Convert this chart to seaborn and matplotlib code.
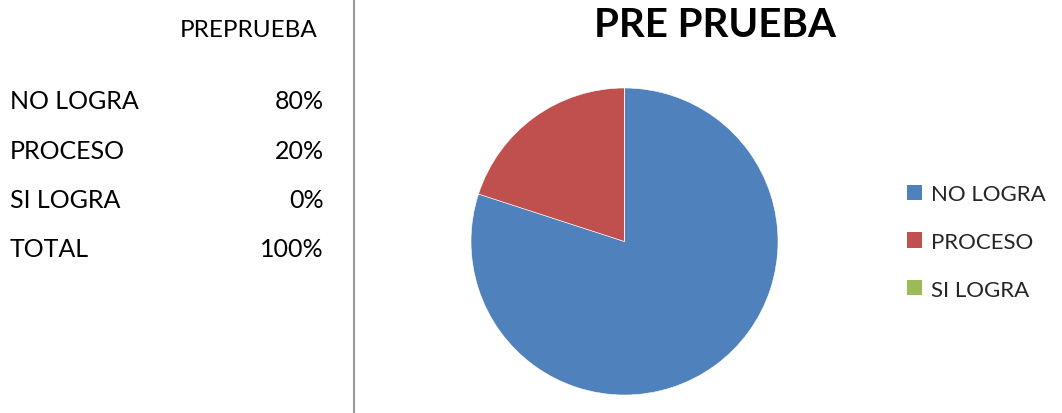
import matplotlib
matplotlib.use("Agg")
import matplotlib.pyplot as plt
from matplotlib.lines import Line2D
from matplotlib.patches import Patch
import seaborn as sns

# Results of the pre-test
categories = ["NO LOGRA", "PROCESO", "SI LOGRA"]
percentages = [80, 20, 0]
table_header = "PREPRUEBA"
table_rows = ["NO LOGRA", "PROCESO", "SI LOGRA", "TOTAL"]
table_values = ["80%", "20%", "0%", "100%"]
chart_title = "PRE PRUEBA"

sns.set_theme(style="white")
plt.rcParams["font.family"] = ["Lato", "DejaVu Sans"]

palette = sns.color_palette(["#4F81BD", "#C0504D", "#9BBB59"])

W, H = 1062, 414
fig = plt.figure(figsize=(W / 100, H / 100), dpi=100)
fig.patch.set_facecolor("white")


def fx(px):
    return px / W


def fy(py):
    return 1 - py / H


# Summary table on the left
fig.text(fx(318), fy(36.7), table_header, ha="right", va="baseline",
         fontsize=17.5, color="black")
baselines = [109.3, 159, 208, 257]
for label, value, base in zip(table_rows, table_values, baselines):
    fig.text(fx(10), fy(base), label, ha="left", va="baseline",
             fontsize=18, color="black")
    fig.text(fx(324), fy(base), value, ha="right", va="baseline",
             fontsize=18, color="black")

# Divider between the table and the chart
fig.add_artist(Line2D([fx(353.5), fx(353.5)], [0, 1], color="#9a9a9a",
                      linewidth=1.5, transform=fig.transFigure))

# Pie chart
cx, cy, r = 624.5, 242.5, 153.5
ax = fig.add_axes([fx(cx - r), fy(cy + r), (2 * r) / W, (2 * r) / H])
ax.pie(percentages, colors=palette, startangle=90, counterclock=False,
       wedgeprops=dict(edgecolor="white", linewidth=0.4))
ax.set_xlim(-1, 1)
ax.set_ylim(-1, 1)
ax.set_aspect("equal")
ax.axis("off")

fig.text(fx(714.5), fy(37.3), chart_title, ha="center", va="baseline",
         fontsize=29, fontweight="bold", color="black")

handles = [Patch(facecolor=c, edgecolor="none") for c in palette]
fig.legend(handles, categories, loc="upper left",
           bbox_to_anchor=(fx(907), fy(185)), bbox_transform=fig.transFigure,
           frameon=False, fontsize=16, handlelength=0.68, handleheight=0.68,
           handletextpad=0.4, labelspacing=1.25, borderaxespad=0,
           borderpad=0)

fig.savefig("out.png", dpi=100, facecolor="white")
